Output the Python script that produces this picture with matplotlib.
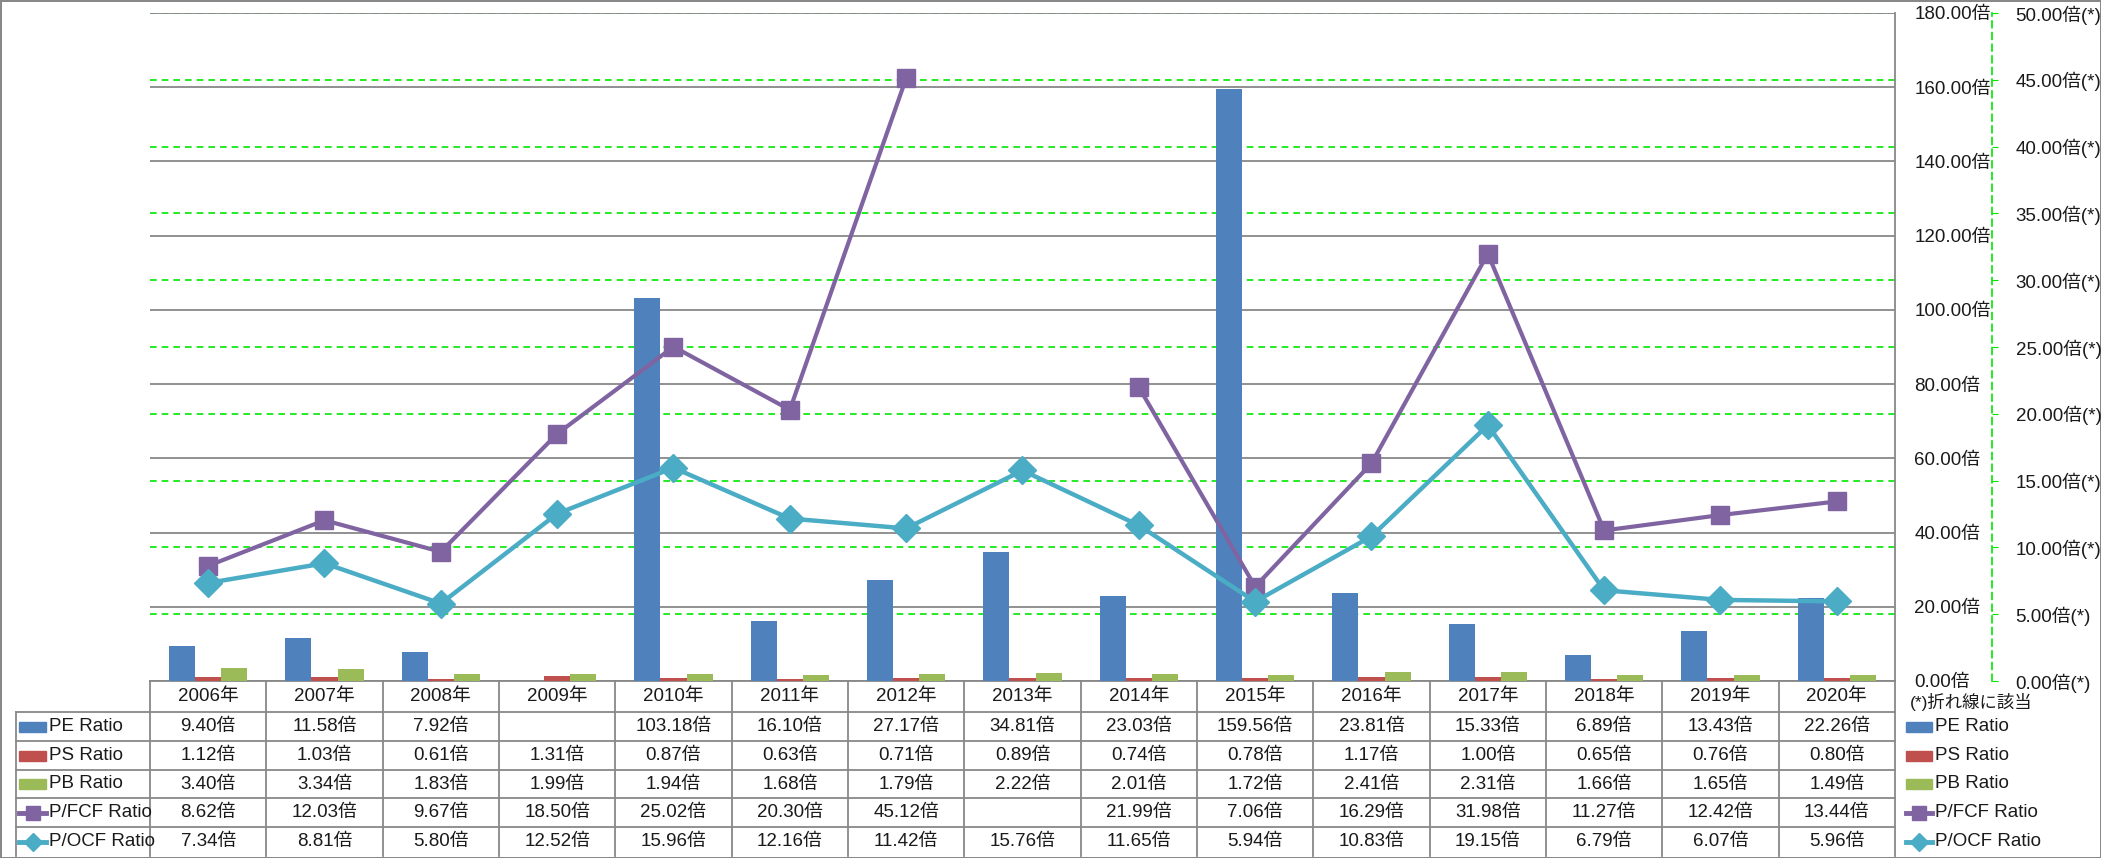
import numpy as np
import matplotlib
matplotlib.use("Agg")
import matplotlib.pyplot as plt
from matplotlib.lines import Line2D
from matplotlib.patches import Rectangle
from matplotlib.ticker import FuncFormatter, MultipleLocator
import matplotlib.transforms as mtrans

plt.rcParams['font.family'] = ['Liberation Sans', 'Noto Sans CJK JP', 'DejaVu Sans']
plt.rcParams['font.size'] = 13.5

years = ["2006年", "2007年", "2008年", "2009年", "2010年", "2011年", "2012年", "2013年",
         "2014年", "2015年", "2016年", "2017年", "2018年", "2019年", "2020年"]
pe = [9.40, 11.58, 7.92, np.nan, 103.18, 16.10, 27.17, 34.81, 23.03, 159.56, 23.81, 15.33, 6.89, 13.43, 22.26]
ps = [1.12, 1.03, 0.61, 1.31, 0.87, 0.63, 0.71, 0.89, 0.74, 0.78, 1.17, 1.00, 0.65, 0.76, 0.80]
pb = [3.40, 3.34, 1.83, 1.99, 1.94, 1.68, 1.79, 2.22, 2.01, 1.72, 2.41, 2.31, 1.66, 1.65, 1.49]
pfcf = [8.62, 12.03, 9.67, 18.50, 25.02, 20.30, 45.12, np.nan, 21.99, 7.06, 16.29, 31.98, 11.27, 12.42, 13.44]
pocf = [7.34, 8.81, 5.80, 12.52, 15.96, 12.16, 11.42, 15.76, 11.65, 5.94, 10.83, 19.15, 6.79, 6.07, 5.96]

series_names = ["PE Ratio", "PS Ratio", "PB Ratio", "P/FCF Ratio", "P/OCF Ratio"]
c_pe, c_ps, c_pb, c_fcf, c_ocf = "#4F81BD", "#C0504D", "#9BBB59", "#8064A2", "#4BACC6"
grid_gray = "#888888"
green = "#00E600"
txt = "#1a1a1a"
FS = 13.5

W, H = 2101, 858
fig = plt.figure(figsize=(W / 100, H / 100), dpi=100)
fig.patch.set_facecolor("white")
fig.patch.set_edgecolor(grid_gray)
fig.patch.set_linewidth(2)

L, R, T, B = 150, 1895, 13, 681
rect = [L / W, (H - B) / H, (R - L) / W, (B - T) / H]

def fy(py):
    return (H - py) / H

def fx(px):
    return px / W

# background axes for secondary grid (green dashed)
axg = fig.add_axes(rect, zorder=0)
axg.set_ylim(0, 50)
axg.set_xlim(0, 1)
axg.yaxis.set_major_locator(MultipleLocator(5))
axg.grid(axis="y", color=green, linestyle=(0, (4, 3)), linewidth=1.2)
axg.set_xticks([])
axg.tick_params(axis="y", length=0, labelleft=False)
for s in axg.spines.values():
    s.set_visible(False)

# primary axes (bars)
ax = fig.add_axes(rect, zorder=1)
ax.patch.set_visible(False)
n = len(years)
x = np.arange(n)
bw = 0.225
ax.bar(x - bw, pe, bw, color=c_pe, zorder=3)
ax.bar(x, ps, bw, color=c_ps, zorder=3)
ax.bar(x + bw, pb, bw, color=c_pb, zorder=3)
ax.set_xlim(-0.5, n - 0.5)
ax.set_ylim(0, 180)
ax.set_xticks([])
ax.grid(axis="y", color=grid_gray, linewidth=1.3, zorder=1)
ax.set_axisbelow(True)

# secondary axes (lines)
ax2 = ax.twinx()
ax2.set_zorder(2)
ax2.patch.set_visible(False)

# primary y labels on the right side
ax.yaxis.set_major_locator(MultipleLocator(20))
ax.yaxis.set_major_formatter(FuncFormatter(lambda v, p: f"{v:.2f}倍"))
ax.yaxis.tick_right()
ax.yaxis.set_label_position("right")
ax.tick_params(axis="y", which="both", left=False, labelleft=False, right=False, labelright=True,
               length=0, pad=14, labelsize=FS, labelcolor=txt)
for k in ["left", "top"]:
    ax.spines[k].set_visible(False)
ax.spines["bottom"].set_color(grid_gray)
ax.spines["bottom"].set_linewidth(1.3)
ax.spines["right"].set_color(grid_gray)
ax.spines["right"].set_linewidth(1.3)

ax2.set_ylim(0, 50)
ax2.yaxis.set_major_locator(MultipleLocator(5))
ax2.yaxis.set_major_formatter(FuncFormatter(lambda v, p: f"{v:.2f}倍(*)"))
ax2.spines["right"].set_position(("axes", (1992 - L) / (R - L)))
ax2.spines["right"].set_color(green)
ax2.spines["right"].set_linestyle((0, (4, 3)))
ax2.spines["right"].set_linewidth(1.2)
for k in ["left", "top", "bottom"]:
    ax2.spines[k].set_visible(False)
ax2.tick_params(axis="y", direction="out", length=4, color=green, pad=13, labelsize=FS, labelcolor=txt)
ax2.plot(x, pfcf, color=c_fcf, linewidth=3, marker="s", markersize=13, zorder=3)
ax2.plot(x, pocf, color=c_ocf, linewidth=3.2, marker="D", markersize=14, zorder=4)

# data table
rows_top = [712, 741, 770, 798, 827]
row_bot = 856
tr_x = mtrans.blended_transform_factory(ax.transData, fig.transFigure)
line_kw = dict(color=grid_gray, linewidth=1.3)

for i in range(n + 1):
    fig.add_artist(Line2D([i - 0.5, i - 0.5], [fy(B), fy(row_bot)], transform=tr_x, **line_kw))
fig.add_artist(Line2D([fx(16), fx(16)], [fy(712), fy(row_bot)], transform=fig.transFigure, **line_kw))
for yy in rows_top:
    fig.add_artist(Line2D([fx(16), fx(R)], [fy(yy), fy(yy)], transform=fig.transFigure, **line_kw))

for i, yr in enumerate(years):
    fig.text(i, fy((B + 712) / 2), yr, transform=tr_x, ha="center", va="center", fontsize=FS, color=txt)

data_rows = [pe, ps, pb, pfcf, pocf]
row_bounds = rows_top + [row_bot]
for r, vals in enumerate(data_rows):
    yc = fy((row_bounds[r] + row_bounds[r + 1]) / 2)
    for i, v in enumerate(vals):
        if not np.isnan(v):
            fig.text(i, yc, f"{v:.2f}倍", transform=tr_x, ha="center", va="center", fontsize=FS, color=txt)

colors = [c_pe, c_ps, c_pb, c_fcf, c_ocf]
markers = [None, None, None, "s", "D"]

def legend_key(x0, x1, yc, color, marker):
    if marker is None:
        fig.add_artist(Rectangle((fx(x0), yc - 5 / H), (x1 - x0) / W, 10 / H,
                                 transform=fig.transFigure, color=color))
    else:
        fig.add_artist(Line2D([fx(x0), fx(x1)], [yc, yc], transform=fig.transFigure,
                              color=color, linewidth=3.5))
        fig.add_artist(Line2D([fx((x0 + x1) / 2)], [yc], transform=fig.transFigure,
                              color=color, marker=marker, markersize=9.5 if marker == "s" else 9.5,
                              linestyle="none"))

for r, name in enumerate(series_names):
    yc = fy((row_bounds[r] + row_bounds[r + 1]) / 2)
    legend_key(19, 46, yc, colors[r], markers[r])
    fig.text(fx(49), yc, name, ha="left", va="center", fontsize=FS, color=txt)
    legend_key(1906, 1932, yc, colors[r], markers[r])
    fig.text(fx(1935), yc, name, ha="left", va="center", fontsize=FS, color=txt)

fig.text(fx(1910), fy(702), "(*)折れ線に該当", ha="left", va="center", fontsize=12.5, color=txt)

fig.savefig("out.png", dpi=100, facecolor=fig.get_facecolor(), edgecolor=fig.get_edgecolor())
